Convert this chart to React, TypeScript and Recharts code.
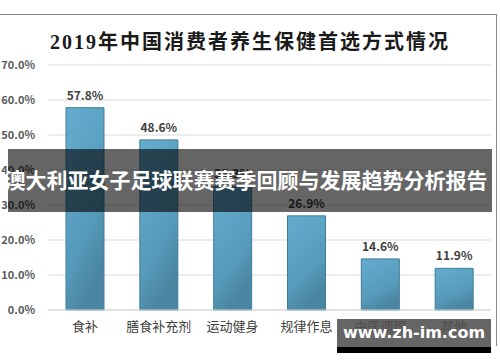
import { BarChart, Bar, XAxis, YAxis, CartesianGrid, LabelList } from "recharts";

const categories = ["食补", "膳食补充剂", "运动健身", "规律作息", "中医调理", "其他"];
const shares = [57.8, 48.6, 35.3, 26.9, 14.6, 11.9];
const yTicks = [0, 10, 20, 30, 40, 50, 60, 70];

const data = categories.map((name, i) => ({ name, value: shares[i] }));

const pct = (v: number) => v.toFixed(1) + "%";

export default function App() {
  return (
    <div
      style={{
        position: "fixed",
        left: 0,
        top: 0,
        width: 500,
        height: 362,
        background: "#fff",
        overflow: "hidden",
        fontFamily: "'Noto Sans CJK SC', sans-serif",
      }}
    >
      {/* frame */}
      <div
        style={{
          position: "absolute",
          left: 0,
          top: 14,
          width: 496,
          height: 331,
          borderTop: "1.5px solid #8a8a8a",
          borderRight: "1.5px solid #8a8a8a",
        }}
      />
      <div
        style={{
          position: "absolute",
          left: 0,
          top: 26,
          width: 500,
          textAlign: "center",
          fontFamily: "'Liberation Serif', 'Noto Sans CJK SC', serif",
          fontWeight: "bold",
          fontSize: 20,
          letterSpacing: 2,
          color: "#1a1a1a",
        }}
      >
        2019年中国消费者养生保健首选方式情况
      </div>
      <div style={{ position: "absolute", left: 0, top: 0 }}>
        <BarChart
          width={500}
          height={362}
          data={data}
          margin={{ top: 65, right: 9, bottom: 22, left: 0 }}
        >
          <defs>
            <linearGradient id="barFill" x1="0" y1="0" x2="0.4" y2="1">
              <stop offset="0%" stopColor="#64acce" />
              <stop offset="70%" stopColor="#579bbb" />
              <stop offset="100%" stopColor="#4a86a2" />
            </linearGradient>
          </defs>
          <CartesianGrid vertical={false} stroke="#d9d9d9" strokeWidth={1} />
          <XAxis
            dataKey="name"
            height={30}
            tickSize={0}
            tickMargin={12}
            axisLine={{ stroke: "#d9d9d9" }}
            tick={{ fill: "#404040", fontSize: 13 }}
            interval={0}
          />
          <YAxis
            width={48}
            domain={[0, 70]}
            ticks={yTicks}
            tickFormatter={pct}
            tickSize={0}
            tickMargin={13}
            axisLine={false}
            tick={{ fill: "#595959", fontSize: 11, fontWeight: "bold" }}
          />
          <Bar
            dataKey="value"
            barSize={38}
            fill="url(#barFill)"
            stroke="#3f7e9a"
            strokeWidth={1}
            isAnimationActive={false}
          >
            <LabelList
              dataKey="value"
              position="top"
              offset={8}
              formatter={(v: any) => pct(Number(v))}
              style={{ fill: "#404040", fontSize: 12, fontWeight: "bold" }}
            />
          </Bar>
        </BarChart>
      </div>
      {/* overlay banner */}
      <div
        style={{
          position: "absolute",
          left: 8,
          top: 149,
          width: 484,
          height: 63,
          background: "rgba(0,0,0,0.6)",
        }}
      />
      <div
        style={{
          position: "absolute",
          left: 0,
          top: 164,
          width: 492,
          textAlign: "center",
          color: "#fff",
          fontWeight: "bold",
          fontSize: 21,
          lineHeight: "30px",
          whiteSpace: "nowrap",
        }}
      >
        澳大利亚女子足球联赛赛季回顾与发展趋势分析报告
      </div>
      {/* watermark */}
      <div
        style={{
          position: "absolute",
          left: 337,
          top: 319,
          width: 154,
          height: 28,
          background: "rgba(80,80,80,0.88)",
          color: "#fff",
          fontFamily: "'DejaVu Sans', sans-serif",
          fontWeight: "bold",
          fontSize: 16,
          lineHeight: "28px",
          textAlign: "center",
        }}
      >
        www.zh-im.com
      </div>
      <div
        style={{
          position: "absolute",
          left: 337,
          top: 347,
          width: 154,
          height: 6,
          background: "#000",
        }}
      />
    </div>
  );
}
